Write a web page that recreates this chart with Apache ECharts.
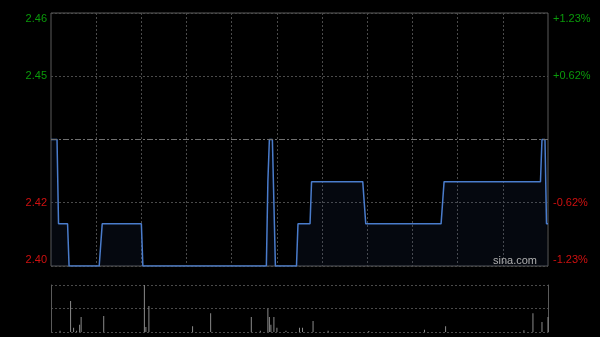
<!DOCTYPE html>
<html>
<head>
<meta charset="utf-8">
<script src="https://cdn.jsdelivr.net/npm/echarts@6/dist/echarts.min.js"></script>
<style>
html,body{margin:0;padding:0;background:#000;}
#c{width:600px;height:337px;}
</style>
</head>
<body>
<div id="c"></div>
<script>
var prevClose = 2.43;
var priceMin = 2.40;
var priceMax = 2.46;
var priceTicks = ['2.40', '2.42', '', '2.45', '2.46'];
var pctTicks = ['-1.23%', '-0.62%', '', '+0.62%', '+1.23%'];

var prices = [
2.43,2.43,2.43,2.43,2.43,2.41,2.41,2.41,2.41,2.41,
2.41,2.41,2.40,2.40,2.40,2.40,2.40,2.40,2.40,2.40,
2.40,2.40,2.40,2.40,2.40,2.40,2.40,2.40,2.40,2.40,
2.40,2.40,2.40,2.40,2.41,2.41,2.41,2.41,2.41,2.41,
2.41,2.41,2.41,2.41,2.41,2.41,2.41,2.41,2.41,2.41,
2.41,2.41,2.41,2.41,2.41,2.41,2.41,2.41,2.41,2.41,
2.41,2.40,2.40,2.40,2.40,2.40,2.40,2.40,2.40,2.40,
2.40,2.40,2.40,2.40,2.40,2.40,2.40,2.40,2.40,2.40,
2.40,2.40,2.40,2.40,2.40,2.40,2.40,2.40,2.40,2.40,
2.40,2.40,2.40,2.40,2.40,2.40,2.40,2.40,2.40,2.40,
2.40,2.40,2.40,2.40,2.40,2.40,2.40,2.40,2.40,2.40,
2.40,2.40,2.40,2.40,2.40,2.40,2.40,2.40,2.40,2.40,
2.40,2.40,2.40,2.40,2.40,2.40,2.40,2.40,2.40,2.40,
2.40,2.40,2.40,2.40,2.40,2.40,2.40,2.40,2.40,2.40,
2.40,2.40,2.40,2.40,2.42,2.43,2.43,2.43,2.43,2.40,
2.40,2.40,2.40,2.40,2.40,2.40,2.40,2.40,2.40,2.40,
2.40,2.40,2.40,2.40,2.41,2.41,2.41,2.41,2.41,2.41,
2.41,2.41,2.41,2.42,2.42,2.42,2.42,2.42,2.42,2.42,
2.42,2.42,2.42,2.42,2.42,2.42,2.42,2.42,2.42,2.42,
2.42,2.42,2.42,2.42,2.42,2.42,2.42,2.42,2.42,2.42,
2.42,2.42,2.42,2.42,2.42,2.42,2.42,2.42,2.42,2.41,
2.41,2.41,2.41,2.41,2.41,2.41,2.41,2.41,2.41,2.41,
2.41,2.41,2.41,2.41,2.41,2.41,2.41,2.41,2.41,2.41,
2.41,2.41,2.41,2.41,2.41,2.41,2.41,2.41,2.41,2.41,
2.41,2.41,2.41,2.41,2.41,2.41,2.41,2.41,2.41,2.41,
2.41,2.41,2.41,2.41,2.41,2.41,2.41,2.41,2.41,2.41,
2.41,2.42,2.42,2.42,2.42,2.42,2.42,2.42,2.42,2.42,
2.42,2.42,2.42,2.42,2.42,2.42,2.42,2.42,2.42,2.42,
2.42,2.42,2.42,2.42,2.42,2.42,2.42,2.42,2.42,2.42,
2.42,2.42,2.42,2.42,2.42,2.42,2.42,2.42,2.42,2.42,
2.42,2.42,2.42,2.42,2.42,2.42,2.42,2.42,2.42,2.42,
2.42,2.42,2.42,2.42,2.42,2.42,2.42,2.42,2.42,2.42,
2.42,2.42,2.42,2.42,2.42,2.42,2.43,2.43,2.43,2.41,
2.41
];

// sparse minute volumes: [minute index, shares]
var volumes = [
[6,13000],[13,310000],[15,43000],[17,13000],[19,73000],[20,150000],
[35,160000],[62,470000],[63,50000],[65,260000],[94,57000],[106,187000],
[133,150000],[139,13000],[144,233000],[145,150000],[146,73000],[148,150000],
[150,43000],[156,13000],[165,43000],[167,43000],[174,110000],[184,13000],
[211,10000],[248,23000],[262,57000],[314,17000],[320,187000],[326,100000],
[330,150000]
];
var volMax = 470000;

// minute categories: 09:30-12:00, 13:00-16:00
var times = [];
(function () {
  function pad(n) { return (n < 10 ? '0' : '') + n; }
  for (var m = 9 * 60 + 30; m <= 12 * 60; m++) times.push(pad(Math.floor(m / 60)) + ':' + pad(m % 60));
  for (var m2 = 13 * 60 + 1; m2 <= 16 * 60; m2++) times.push(pad(Math.floor(m2 / 60)) + ':' + pad(m2 % 60));
})();

var GREEN = '#0a9a0a';
var RED = '#d01010';
var GRID_C = '#4a4a4a';
var FONT = 'Liberation Sans, Arial, sans-serif';

function richSet() {
  return {
    g: { color: GREEN, fontSize: 11, fontFamily: FONT },
    r: { color: RED, fontSize: 11, fontFamily: FONT },
    gt: { color: GREEN, fontSize: 11, fontFamily: FONT, padding: [12, 0, 0, 0] },
    rb: { color: RED, fontSize: 11, fontFamily: FONT, padding: [0, 0, 12, 0] }
  };
}
function fmtFrom(arr) {
  return function (v, i) {
    var t = arr[i];
    if (!t) return '';
    if (i === 0) return '{rb|' + t + '}';
    if (i === arr.length - 1) return '{gt|' + t + '}';
    return (i < 2 ? '{r|' : '{g|') + t + '}';
  };
}

var chart = echarts.init(document.getElementById('c'), null, { renderer: 'canvas' });
chart.setOption({
  backgroundColor: '#000',
  animation: false,
  grid: [
    { left: 51, top: 13, width: 497, height: 253, show: true, borderColor: '#5a5a5a', borderWidth: 1, backgroundColor: 'transparent' },
    { left: 51, top: 285, width: 497, height: 47, show: false }
  ],
  xAxis: [
    {
      type: 'category', gridIndex: 0, data: times, boundaryGap: false,
      axisLine: { show: false }, axisTick: { show: false }, axisLabel: { show: false },
      splitLine: {
        show: true,
        interval: function (i) { return i > 0 && i < 330 && i % 30 === 0; },
        lineStyle: { color: GRID_C, type: [2, 2], width: 1 }
      }
    },
    {
      type: 'category', gridIndex: 1, data: times, boundaryGap: false,
      axisLine: { show: false }, axisTick: { show: false }, axisLabel: { show: false },
      splitLine: { show: false }
    }
  ],
  yAxis: [
    {
      type: 'value', gridIndex: 0, position: 'left', min: priceMin, max: priceMax, interval: 0.015,
      axisLine: { show: false }, axisTick: { show: false },
      axisLabel: { margin: 4, formatter: fmtFrom(priceTicks), rich: richSet() },
      splitLine: {
        show: true,
        lineStyle: { color: GRID_C, type: [2, 2], width: 1 }
      }
    },
    {
      type: 'value', gridIndex: 0, position: 'right', min: priceMin, max: priceMax, interval: 0.015,
      axisLine: { show: false }, axisTick: { show: false },
      axisLabel: { margin: 5, formatter: fmtFrom(pctTicks), rich: richSet() },
      splitLine: { show: false }
    },
    {
      type: 'value', gridIndex: 1, position: 'left', min: 0, max: volMax, interval: volMax / 2,
      axisLine: { show: true, lineStyle: { color: '#5a5a5a' } }, axisTick: { show: false }, axisLabel: { show: false },
      splitLine: { show: true, lineStyle: { color: GRID_C, type: [2, 2], width: 1 } }
    },
    {
      type: 'value', gridIndex: 1, position: 'right', min: 0, max: volMax, interval: volMax / 2,
      axisLine: { show: true, lineStyle: { color: '#5a5a5a' } }, axisTick: { show: false }, axisLabel: { show: false },
      splitLine: { show: false }
    }
  ],
  series: [
    {
      type: 'line', xAxisIndex: 0, yAxisIndex: 0, data: prices,
      symbol: 'none', smooth: false,
      lineStyle: { color: '#4a7ccc', width: 1.5 },
      areaStyle: { color: 'rgba(40,70,130,0.16)', origin: 'start' },
      markLine: {
        silent: true, symbol: 'none', label: { show: false },
        lineStyle: { color: '#707070', type: [6, 2, 2, 2], width: 1 },
        data: [{ yAxis: prevClose }]
      },
      z: 3
    },
    {
      type: 'bar', xAxisIndex: 1, yAxisIndex: 2, data: volumes,
      barWidth: 1, itemStyle: { color: '#8a8a8a' }, z: 3
    }
  ],
  graphic: [
    {
      type: 'text', x: 537, y: 261, z: 10,
      style: { text: 'sina.com', fill: '#b0b0b0', font: '11px ' + FONT, textAlign: 'right', textVerticalAlign: 'middle' }
    }
  ]
});
</script>
</body>
</html>
